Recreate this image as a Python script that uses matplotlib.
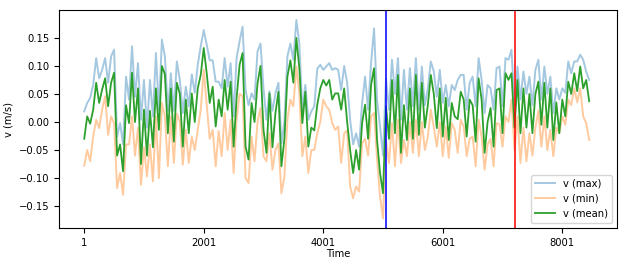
import numpy as np
import matplotlib
matplotlib.use("Agg")
import matplotlib.pyplot as plt

# time stamps: one sample every 50 steps
time = np.arange(1, 8500, 50)

v_mean = [
    -0.030, 0.010, -0.003, 0.022, 0.070, 0.034, 0.058, 0.078, 0.028, 0.070,
    0.088, -0.060, -0.040, -0.088, 0.030, -0.002, 0.088, 0.000, 0.060, -0.075,
    0.022, -0.060, 0.020, -0.045, 0.060, -0.014, 0.100, 0.085, -0.020, 0.060,
    -0.035, 0.070, 0.050, -0.044, 0.040, -0.020, 0.051, 0.000, 0.060, 0.084,
    0.132, 0.087, 0.034, 0.063, -0.008, 0.040, 0.010, 0.075, 0.022, 0.072,
    -0.044, 0.043, 0.102, 0.123, -0.044, -0.067, 0.034, 0.000, 0.069, 0.100,
    -0.014, -0.055, 0.051, -0.045, 0.016, 0.054, -0.079, -0.030, 0.081, 0.110,
    0.070, 0.150, 0.096, -0.002, 0.054, -0.044, -0.010, -0.015, 0.031, 0.060,
    0.075, 0.065, 0.075, 0.040, 0.051, 0.051, 0.022, 0.060, 0.000, -0.050,
    -0.091, -0.050, -0.085, -0.002, 0.031, -0.030, 0.066, 0.096, -0.032, -0.091,
    -0.127, 0.028, -0.030, 0.075, -0.020, 0.084, -0.055, 0.030, -0.032, 0.060,
    -0.030, 0.084, -0.023, 0.070, -0.010, 0.030, 0.084, 0.050, -0.011, 0.060,
    -0.026, 0.043, -0.032, 0.034, 0.010, 0.005, 0.054, 0.040, -0.026, 0.040,
    0.030, -0.035, 0.078, 0.040, -0.055, 0.000, 0.025, -0.044, 0.057, 0.060,
    -0.020, 0.087, 0.075, 0.087, -0.010, 0.075, -0.020, 0.060, -0.010, 0.050,
    -0.020, 0.050, 0.072, -0.005, 0.070, -0.010, 0.060, -0.032, 0.035, -0.020,
    0.040, 0.010, 0.072, 0.050, 0.087, 0.055, 0.099, 0.060, 0.075, 0.037,
]

v_max = [
    0.019, 0.034, 0.043, 0.066, 0.114, 0.078, 0.093, 0.114, 0.070, 0.117,
    0.129, -0.026, -0.002, -0.040, 0.081, 0.040, 0.135, 0.045, 0.105, 0.004,
    0.075, -0.010, 0.075, 0.010, 0.123, 0.021, 0.147, 0.117, 0.020, 0.087,
    0.020, 0.108, 0.075, 0.016, 0.063, 0.028, 0.085, 0.052, 0.102, 0.135,
    0.164, 0.138, 0.110, 0.110, 0.072, 0.072, 0.060, 0.114, 0.063, 0.105,
    0.010, 0.114, 0.144, 0.170, 0.057, 0.030, 0.051, 0.040, 0.126, 0.140,
    0.060, 0.004, 0.055, 0.020, 0.051, 0.070, -0.038, 0.000, 0.117, 0.140,
    0.111, 0.182, 0.140, 0.022, 0.066, 0.004, 0.019, 0.028, 0.095, 0.102,
    0.093, 0.099, 0.105, 0.093, 0.096, 0.093, 0.057, 0.100, 0.070, 0.004,
    -0.040, -0.020, -0.044, 0.034, 0.081, 0.022, 0.105, 0.167, 0.040, -0.008,
    -0.060, 0.078, 0.022, 0.111, 0.050, 0.114, 0.004, 0.093, 0.022, 0.096,
    0.028, 0.114, 0.022, 0.099, 0.030, 0.060, 0.108, 0.090, 0.045, 0.093,
    0.034, 0.066, 0.028, 0.066, 0.057, 0.075, 0.084, 0.084, 0.022, 0.070,
    0.081, 0.028, 0.114, 0.075, 0.016, 0.066, 0.060, 0.022, 0.096, 0.099,
    0.028, 0.114, 0.111, 0.129, 0.030, 0.099, 0.040, 0.090, 0.050, 0.081,
    0.030, 0.093, 0.111, 0.040, 0.099, 0.050, 0.081, 0.016, 0.060, 0.040,
    0.060, 0.052, 0.108, 0.087, 0.108, 0.108, 0.120, 0.111, 0.090, 0.075,
]

v_min = [
    -0.078, -0.050, -0.070, -0.026, 0.004, -0.011, 0.022, 0.046, -0.023, 0.010,
    -0.002, -0.118, -0.091, -0.130, -0.040, -0.040, 0.010, -0.060, -0.010, -0.112,
    -0.045, -0.097, -0.040, -0.106, 0.010, -0.100, 0.034, 0.010, -0.079, 0.010,
    -0.073, 0.015, 0.000, -0.076, -0.014, -0.073, -0.026, -0.050, -0.014, 0.022,
    0.093, 0.030, -0.030, -0.014, -0.079, -0.016, -0.061, 0.016, -0.050, 0.004,
    -0.091, 0.004, 0.050, 0.046, -0.100, -0.109, -0.026, -0.070, 0.000, 0.025,
    -0.061, -0.070, -0.020, -0.085, -0.050, -0.038, -0.127, -0.097, 0.004, 0.040,
    0.028, 0.099, 0.051, -0.061, -0.026, -0.091, -0.050, -0.050, -0.020, 0.000,
    0.040, 0.028, 0.022, -0.002, -0.014, -0.008, -0.073, -0.020, -0.015, -0.115,
    -0.136, -0.115, -0.124, -0.038, -0.030, -0.060, 0.010, 0.016, -0.065, -0.133,
    -0.172, -0.032, -0.073, -0.002, -0.079, 0.004, -0.073, -0.032, -0.061, 0.000,
    -0.055, 0.004, -0.061, 0.000, -0.050, -0.026, 0.022, -0.010, -0.044, 0.000,
    -0.061, -0.008, -0.064, -0.002, -0.014, -0.055, 0.004, -0.008, -0.061, -0.030,
    -0.026, -0.079, 0.004, -0.026, -0.085, -0.040, -0.030, -0.079, -0.002, -0.004,
    -0.044, 0.010, 0.000, 0.040, -0.050, 0.010, -0.073, -0.010, -0.070, -0.020,
    -0.060, -0.010, 0.020, -0.044, 0.010, -0.050, -0.014, -0.061, -0.010, -0.020,
    0.010, -0.005, 0.040, 0.030, 0.060, 0.035, 0.060, 0.010, -0.002, -0.032,
]

split_a = 5050
split_b = 7210
xticks = [1, 2001, 4001, 6001, 8001]

plt.rcParams['font.size'] = 7.2

fig = plt.figure(figsize=(6.27, 2.66), dpi=100)
ax = fig.add_axes([0.094, 0.143, 0.890, 0.819])

ax.plot(time, v_max, color='tab:blue', alpha=0.4, lw=1.4, label='v (max)')
ax.plot(time, v_min, color='tab:orange', alpha=0.4, lw=1.4, label='v (min)')
ax.plot(time, v_mean, color='tab:green', lw=1.3, label='v (mean)')
ax.axvline(split_a, color='b', alpha=0.8, lw=1.4)
ax.axvline(split_b, color='r', alpha=0.8, lw=1.4)

ax.set_xlim(-422, 8916)
ax.set_ylim(-0.189, 0.1996)
ax.set_xticks(xticks)
ax.set_xticklabels([str(t) for t in xticks])
ax.set_yticks([-0.15, -0.10, -0.05, 0.00, 0.05, 0.10, 0.15])
ax.set_xlabel('Time', labelpad=1)
ax.set_ylabel('v (m/s)', labelpad=4)
ax.legend(loc='lower right')

fig.savefig('out.png', dpi=100)
